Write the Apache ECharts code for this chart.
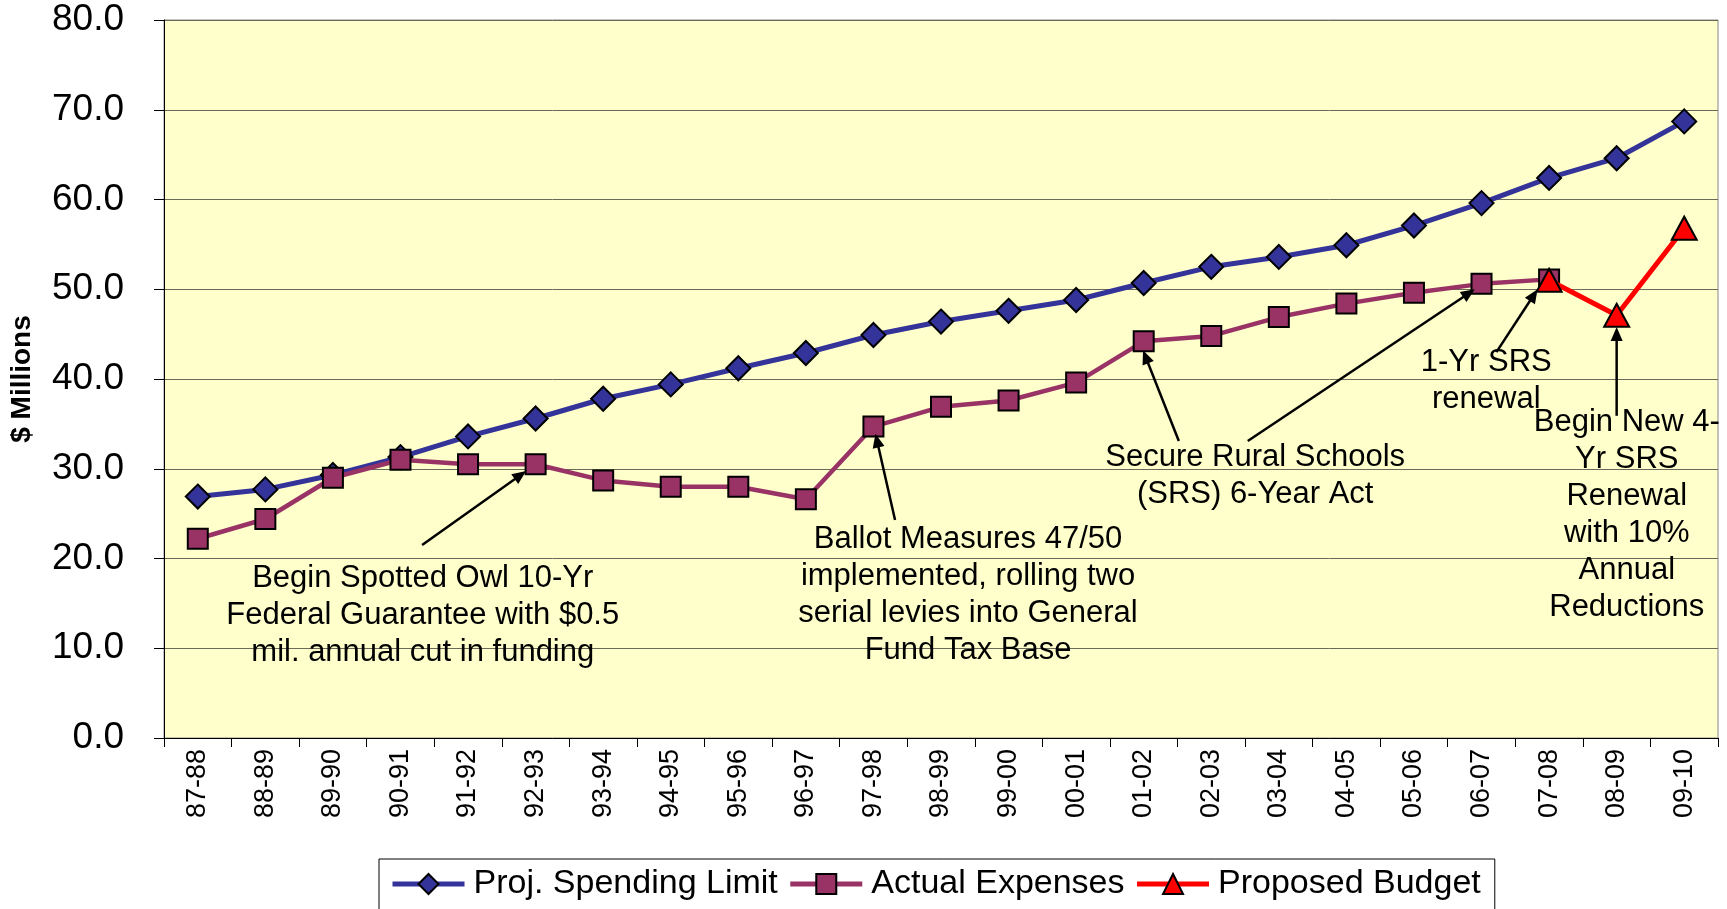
<!DOCTYPE html>
<html><head><meta charset="utf-8">
<script src="https://cdn.jsdelivr.net/npm/echarts@6/dist/echarts.min.js"></script>
<style>html,body{margin:0;padding:0;background:#fff;overflow:hidden}#c{width:1727px;height:909px}</style>
</head><body><div id="c"></div>
<script>
// ---- data ----
const categories = ['87-88','88-89','89-90','90-91','91-92','92-93','93-94','94-95','95-96','96-97','97-98','98-99','99-00','00-01','01-02','02-03','03-04','04-05','05-06','06-07','07-08','08-09','09-10'];
const limitValues = [26.9, 27.7, 29.3, 31.3, 33.6, 35.6, 37.8, 39.4, 41.2, 42.9, 44.9, 46.4, 47.6, 48.8, 50.7, 52.5, 53.6, 54.9, 57.1, 59.6, 62.4, 64.6, 68.7];
const actualValues = [22.2, 24.4, 29.0, 31.0, 30.5, 30.5, 28.7, 28.0, 28.0, 26.6, 34.7, 36.9, 37.6, 39.6, 44.2, 44.8, 46.9, 48.4, 49.6, 50.6, 51.1, null, null];
const proposedValues = [null, null, null, null, null, null, null, null, null, null, null, null, null, null, null, null, null, null, null, null, 51.0, 47.1, 56.8];
const seriesNames = ['Proj. Spending Limit', 'Actual Expenses', 'Proposed Budget'];
const yAxisName = '$ Millions';

// annotation texts (anchor: [category index, value] of first line centre)
const noteTexts = [
  ['Begin Spotted Owl 10-Yr', 'Federal Guarantee with $0.5', 'mil. annual cut in funding'],
  ['Ballot Measures 47/50', 'implemented, rolling two', 'serial levies into General', 'Fund Tax Base'],
  ['Secure Rural Schools', '(SRS) 6-Year Act'],
  ['1-Yr SRS', 'renewal'],
  ['Begin New 4-', 'Yr SRS', 'Renewal', 'with 10%', 'Annual', 'Reductions']
];
const noteAnchors = [[3.33, 17.8], [11.4, 22.1], [15.65, 31.3], [19.07, 41.8], [21.15, 35.2]];
const arrowFrom = [[3.32, 21.5], [10.32, 24.3], [14.52, 33.1], [15.54, 33.1], [19.22, 43.0], [21.0, 35.9]];
const arrowTo   = [[4.86, 29.75], [10.03, 33.9], [13.99, 43.2], [18.9, 50.0], [19.83, 50.0], [21.0, 45.8]];

// ---- chart ----
const FONT = '"Liberation Sans", Arial, Helvetica, sans-serif';
const chart = echarts.init(document.getElementById('c'), null, {renderer: 'canvas'});
const markerBorder = {borderColor: '#000', borderWidth: 2};
chart.setOption({
  animation: false,
  backgroundColor: '#fff',
  grid: {left: 164, right: 9, top: 20, bottom: 171, show: true, backgroundColor: '#FFFFCC', borderColor: '#888', borderWidth: 1,
         containLabel: false, outerBoundsMode: 'none'},
  xAxis: {
    type: 'category', data: categories, boundaryGap: true,
    axisLine: {lineStyle: {color: '#000', width: 1}},
    axisTick: {show: true, length: 9, lineStyle: {color: '#000'}},
    axisLabel: {rotate: 90, interval: 0, fontSize: 27, color: '#000', fontFamily: FONT, margin: 11},
    splitLine: {show: false}
  },
  yAxis: {
    type: 'value', min: 0, max: 80, interval: 10,
    name: yAxisName, nameLocation: 'middle', nameGap: 128, nameRotate: 90,
    nameTextStyle: {fontSize: 28, fontWeight: 'bold', color: '#000', fontFamily: FONT},
    axisLine: {show: true, lineStyle: {color: '#000'}},
    axisTick: {show: true, length: 10, lineStyle: {color: '#000'}},
    axisLabel: {formatter: v => v.toFixed(1), fontSize: 37, color: '#000', fontFamily: FONT, margin: 40},
    splitLine: {show: true, lineStyle: {color: '#6a6a5a', width: 1}}
  },
  legend: {
    data: seriesNames, left: 379, top: 859, orient: 'horizontal',
    itemWidth: 72, itemHeight: 25, itemGap: 10,
    padding: [8, 14, 30, 11],
    borderColor: '#000', borderWidth: 1, backgroundColor: '#fff',
    lineStyle: {width: 5},
    textStyle: {fontSize: 34, color: '#000', fontFamily: FONT, padding: [0, 0, 0, 4]}
  },
  series: [
    {name: seriesNames[0], type: 'line', data: limitValues, symbol: 'diamond', symbolSize: 24, showAllSymbol: true,
     lineStyle: {color: '#333399', width: 5}, itemStyle: Object.assign({color: '#333399'}, markerBorder), z: 2},
    {name: seriesNames[1], type: 'line', data: actualValues, symbol: 'rect', symbolSize: 20, showAllSymbol: true,
     lineStyle: {color: '#993366', width: 4.5}, itemStyle: Object.assign({color: '#993366'}, markerBorder), z: 3},
    {name: seriesNames[2], type: 'line', data: proposedValues, symbol: 'triangle', symbolSize: [25, 23], showAllSymbol: true,
     lineStyle: {color: '#FF0000', width: 5}, itemStyle: Object.assign({color: '#FF0000'}, markerBorder), z: 4}
  ]
});

// annotations positioned through the chart's own axes
function toPx(pt) {
  const x0 = chart.convertToPixel({xAxisIndex: 0}, 0);
  const x1 = chart.convertToPixel({xAxisIndex: 0}, 1);
  const y = chart.convertToPixel({yAxisIndex: 0}, pt[1]);
  return [x0 + pt[0] * (x1 - x0), y];
}
const LINE_H = 37;
const graphics = [];
noteTexts.forEach((lines, i) => {
  const p = toPx(noteAnchors[i]);
  graphics.push({
    type: 'text', z: 100, silent: true,
    style: {text: lines.join('\n'), x: p[0], y: p[1] - LINE_H / 2, align: 'center', verticalAlign: 'top',
            fill: '#000', fontSize: 31, fontFamily: FONT, lineHeight: LINE_H}
  });
});
arrowFrom.forEach((f, i) => {
  const a = toPx(f), b = toPx(arrowTo[i]);
  const dx = b[0] - a[0], dy = b[1] - a[1];
  const len = Math.sqrt(dx * dx + dy * dy);
  const ux = dx / len, uy = dy / len;
  const hl = 14, hw = 6;
  const bx = b[0] - ux * hl, by = b[1] - uy * hl;
  graphics.push({type: 'line', z: 100, silent: true,
    shape: {x1: a[0], y1: a[1], x2: bx + ux * 2, y2: by + uy * 2}, style: {stroke: '#000', lineWidth: 2.5}});
  graphics.push({type: 'polygon', z: 100, silent: true,
    shape: {points: [[b[0], b[1]], [bx - uy * hw, by + ux * hw], [bx + uy * hw, by - ux * hw]]}, style: {fill: '#000'}});
});
chart.setOption({graphic: graphics});
</script>
</body></html>
